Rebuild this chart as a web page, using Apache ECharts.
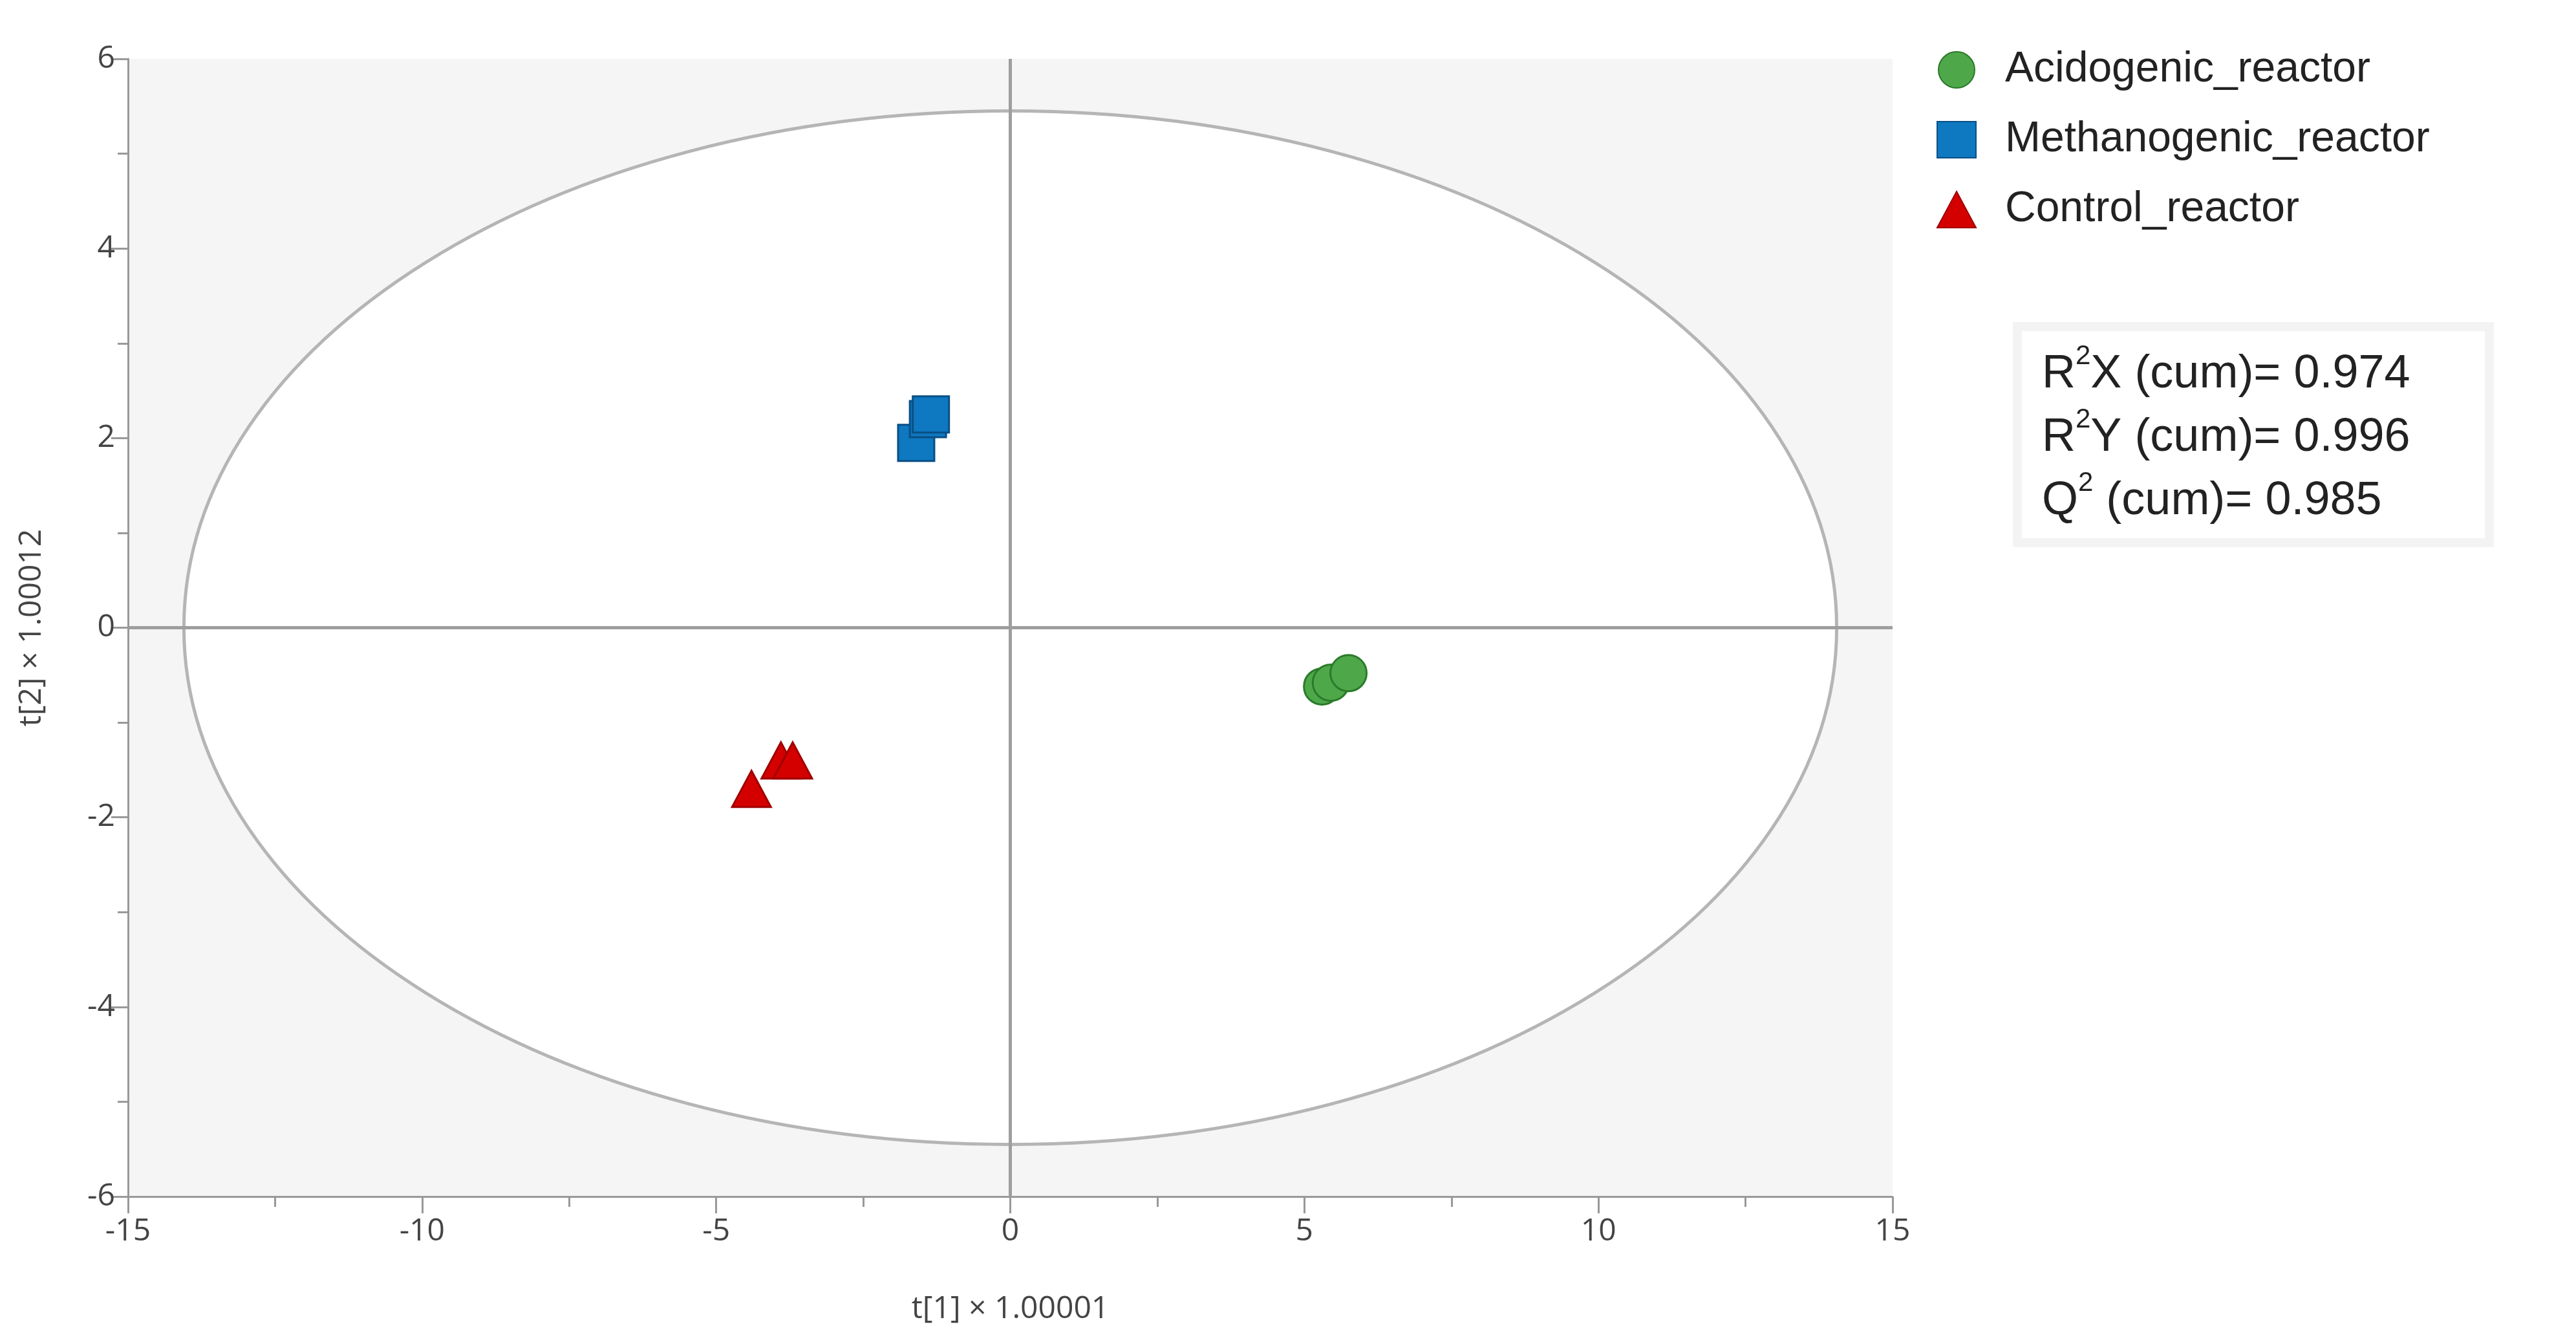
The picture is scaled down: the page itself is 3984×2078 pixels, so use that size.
<!DOCTYPE html>
<html>
<head>
<meta charset="utf-8">
<script src="https://cdn.jsdelivr.net/npm/echarts@6/dist/echarts.min.js"></script>
<style>html,body{margin:0;padding:0;background:#fff}#chart{width:3984px;height:2078px}</style>
</head>
<body>
<div id="chart"></div>
<script>
// group scores t[1], t[2]
const acidogenic = [[5.3, -0.62], [5.45, -0.58], [5.75, -0.48]];
const methanogenic = [[-1.6, 1.95], [-1.4, 2.2], [-1.35, 2.25]];
const control = [[-4.4, -1.7], [-3.9, -1.4], [-3.7, -1.4]];
// Hotelling T2 ellipse: centre x, centre y, radius t1, radius t2
const ellipse = [[0, 0, 14.05, 5.45]];
const statLines = [["R", "2", "X (cum)= 0.974"], ["R", "2", "Y (cum)= 0.996"], ["Q", "2", " (cum)= 0.985"]];

const chart = echarts.init(document.getElementById("chart"));
const font = "Open Sans";
const sideFont = "Liberation Sans";
const axisGray = "#999";

chart.setOption({
  animation: false,
  textStyle: { fontFamily: font },
  grid: { left: 198, right: 1057, top: 91, bottom: 228, show: true, backgroundColor: "#f5f5f5", borderWidth: 0 },
  legend: {
    left: 2990, top: 70, orient: "vertical", itemGap: 42, itemWidth: 60, itemHeight: 56,
    textStyle: { fontSize: 66, color: "#222", fontFamily: sideFont, padding: [0, 0, 0, 40] },
    data: ["Acidogenic_reactor", "Methanogenic_reactor", "Control_reactor"]
  },
  xAxis: {
    type: "value", min: -15, max: 15, interval: 5,
    name: "t[1] × 1.00001", nameLocation: "middle", nameGap: 150,
    nameTextStyle: { fontSize: 48, color: "#444" },
    axisLine: { onZero: false, lineStyle: { color: axisGray, width: 3 } },
    axisTick: { length: 26, lineStyle: { color: axisGray, width: 3 } },
    minorTick: { show: true, splitNumber: 2, length: 16, lineStyle: { color: axisGray, width: 3 } },
    axisLabel: { fontSize: 48, color: "#444", margin: 30 },
    splitLine: { show: false }
  },
  yAxis: {
    type: "value", min: -6, max: 6, interval: 2,
    name: "t[2] × 1.00012", nameLocation: "middle", nameGap: 125,
    nameTextStyle: { fontSize: 48, color: "#444" },
    axisLine: { onZero: false, lineStyle: { color: axisGray, width: 3 } },
    axisTick: { length: 26, lineStyle: { color: axisGray, width: 3 } },
    minorTick: { show: true, splitNumber: 2, length: 16, lineStyle: { color: axisGray, width: 3 } },
    axisLabel: { fontSize: 48, color: "#444", margin: 20 },
    splitLine: { show: false }
  },
  series: [
    {
      type: "custom", silent: true, z: 1, data: ellipse,
      renderItem(params, api) {
        const c = api.coord([api.value(0), api.value(1)]);
        const e = api.coord([api.value(0) + api.value(2), api.value(1) + api.value(3)]);
        return {
          type: "ellipse",
          shape: { cx: c[0], cy: c[1], rx: Math.abs(e[0] - c[0]), ry: Math.abs(e[1] - c[1]) },
          style: { fill: "#fff", stroke: "#b5b5b5", lineWidth: 5 }
        };
      }
    },
    {
      name: "Acidogenic_reactor", type: "scatter", z: 5, symbol: "circle", symbolSize: 56, data: acidogenic,
      itemStyle: { color: "#4ea84a", borderColor: "#2b7a2b", borderWidth: 3, opacity: 1 },
      markLine: {
        silent: true, symbol: "none", label: { show: false },
        lineStyle: { color: "#9e9e9e", width: 5, type: "solid" },
        data: [{ xAxis: 0 }, { yAxis: 0 }]
      }
    },
    {
      name: "Methanogenic_reactor", type: "scatter", z: 5, symbol: "rect", symbolSize: 56, data: methanogenic,
      itemStyle: { color: "#0e78c0", borderColor: "#0a4f85", borderWidth: 3, opacity: 1 }
    },
    {
      name: "Control_reactor", type: "scatter", z: 5, symbol: "triangle", symbolSize: [60, 56], data: control,
      itemStyle: { color: "#d40000", borderColor: "#a00000", borderWidth: 3, opacity: 1 }
    }
  ],
  graphic: [
    {
      type: "rect", shape: { x: 3120, y: 505, width: 730, height: 334 },
      style: { fill: "#fff", stroke: "#f3f3f3", lineWidth: 14 }
    },
    {
      type: "text", left: 3158, top: 530,
      style: {
        text: statLines.map(l => l[0] + "{s|" + l[1] + "}" + l[2]).join("\n"),
        fontSize: 72, fontFamily: sideFont, fill: "#222", lineHeight: 98,
        rich: { s: { fontSize: 42, fontFamily: sideFont, verticalAlign: "top", lineHeight: 98, padding: [0, 0, 14, 0] } }
      }
    }
  ]
});
</script>
</body>
</html>
